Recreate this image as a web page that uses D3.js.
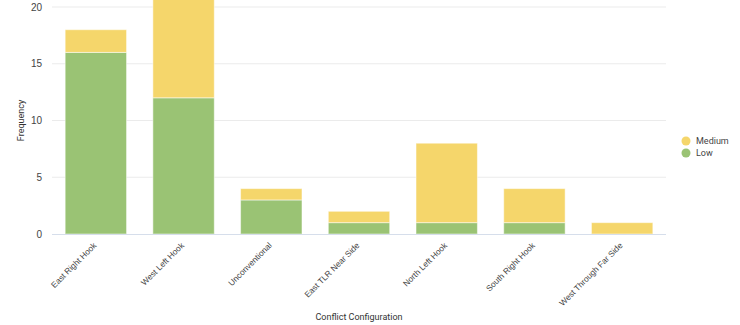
<!DOCTYPE html>
<html>
<head>
<meta charset="utf-8">
<script src="https://cdn.jsdelivr.net/npm/d3@7"></script>
<style>
  html, body { margin: 0; padding: 0; background: #fff; }
  svg { display: block; font-family: Roboto, "Noto Sans", Arial, sans-serif; }
</style>
</head>
<body>
<svg id="chart" width="740" height="325"></svg>
<script>
// Conflict configurations and their frequency by severity
const categories = ["East Right Hook", "West Left Hook", "Unconventional", "East TLR Near Side",
                    "North Left Hook", "South Right Hook", "West Through Far Side"];
const lowValues    = [16, 12, 3, 1, 1, 1, 0];
const mediumValues = [2, 10, 1, 1, 7, 3, 1];
const seriesNames  = ["Low", "Medium"];
const yTicks       = [0, 5, 10, 15, 20];

const colors = { Low: "#9ac374", Medium: "#f5d66b" };

const svg = d3.select("#chart");
const margin = { left: 52, right: 74, top: 7, bottom: 91 };
const width = 740, height = 325;
const x0 = margin.left, x1 = width - margin.right;
const yBottom = height - margin.bottom, yTop = margin.top;

const rows = categories.map((c, i) => ({ category: c, Low: lowValues[i], Medium: mediumValues[i] }));
const stacked = d3.stack().keys(seriesNames)(rows);

const x = d3.scaleBand().domain(categories).range([x0, x1]).paddingInner(0.3).paddingOuter(0.15);
const y = d3.scaleLinear().domain([0, 20]).range([yBottom, yTop]);

// gridlines
svg.append("g")
  .selectAll("line")
  .data(yTicks.filter(t => t > 0))
  .join("line")
  .attr("x1", x0).attr("x2", x1)
  .attr("y1", d => y(d)).attr("y2", d => y(d))
  .attr("stroke", "#ebebeb").attr("stroke-width", 1);

// y tick labels
const yAxis = svg.append("g")
  .attr("transform", `translate(${x0},0)`)
  .call(d3.axisLeft(y).tickValues(yTicks).tickSize(0).tickPadding(10));
yAxis.select(".domain").remove();
yAxis.selectAll("text").attr("fill", "#444").attr("font-size", 10);

// stacked bars
svg.append("g")
  .selectAll("g")
  .data(stacked)
  .join("g")
  .attr("fill", d => colors[d.key])
  .selectAll("rect")
  .data(d => d.filter(s => s[1] > s[0]))
  .join("rect")
  .attr("x", d => x(d.data.category))
  .attr("width", x.bandwidth())
  .attr("y", d => y(d[1]))
  .attr("height", d => y(d[0]) - y(d[1]))
  .attr("stroke", "#ffffff")
  .attr("stroke-opacity", 0.5)
  .attr("stroke-width", 1);

// baseline
svg.append("line")
  .attr("x1", x0).attr("x2", x1)
  .attr("y1", y(0) + 0.5).attr("y2", y(0) + 0.5)
  .attr("stroke", "#d6deeb").attr("stroke-width", 1);

// x category labels
const xAxis = svg.append("g")
  .attr("transform", `translate(0,${y(0)})`)
  .call(d3.axisBottom(x).tickSize(0).tickPadding(0));
xAxis.select(".domain").remove();
xAxis.selectAll("text")
  .attr("fill", "#444")
  .attr("font-size", 8.3)
  .attr("text-anchor", "end")
  .attr("dy", "0")
  .attr("transform", "translate(1,12) rotate(-45)");

// axis titles
svg.append("text")
  .attr("x", (x0 + x1) / 2 + 0)
  .attr("y", 320)
  .attr("text-anchor", "middle")
  .attr("font-size", 9)
  .attr("fill", "#333")
  .text("Conflict Configuration");

svg.append("text")
  .attr("transform", `translate(24,${(yTop + yBottom) / 2}) rotate(-90)`)
  .attr("text-anchor", "middle")
  .attr("font-size", 9)
  .attr("fill", "#333")
  .text("Frequency");

// legend
const legend = svg.append("g").attr("transform", "translate(686,141)");
const legendItems = ["Medium", "Low"];
const li = legend.selectAll("g").data(legendItems).join("g")
  .attr("transform", (d, i) => `translate(0,${i * 12})`);
li.append("circle").attr("r", 4.5).attr("fill", d => colors[d]);
li.append("text").attr("x", 10).attr("dy", "0.35em")
  .attr("font-size", 9).attr("fill", "#444").text(d => d);
</script>
</body>
</html>
